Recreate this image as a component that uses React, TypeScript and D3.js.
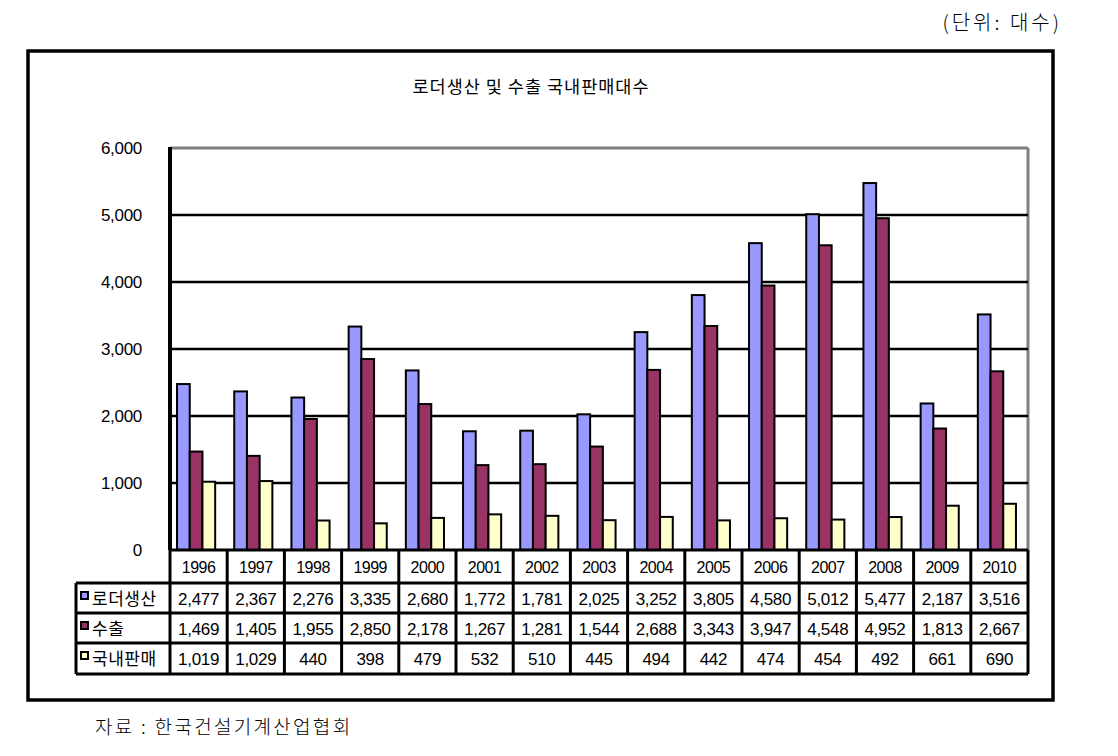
import React from "react";
import * as d3 from "d3";

const years = ["1996","1997","1998","1999","2000","2001","2002","2003","2004","2005","2006","2007","2008","2009","2010"];
const production = [2477,2367,2276,3335,2680,1772,1781,2025,3252,3805,4580,5012,5477,2187,3516];
const exportsV = [1469,1405,1955,2850,2178,1267,1281,1544,2688,3343,3947,4548,4952,1813,2667];
const domestic = [1019,1029,440,398,479,532,510,445,494,442,474,454,492,661,690];
const seriesNames = ["로더생산","수출","국내판매"];
const seriesColors = ["#9999FF","#993366","#FFFFCC"];
const yTicks = [0,1000,2000,3000,4000,5000,6000];
const title = "로더생산 및 수출 국내판매대수";
const unitLabel = "(단위:  대수)";
const sourceLabel = "자료 :  한국건설기계산업협회";

const FONT = "'Liberation Sans', Arial, 'Noto Sans CJK KR', sans-serif";
const KFONT = "'Noto Sans CJK KR', sans-serif";

export default function App() {
  const W = 1118, H = 756;
  const left = 170, right = 1028, top = 148, bottom = 550;
  const series = [production, exportsV, domestic];
  const x = d3.scaleBand<string>().domain(years).range([left, right]).paddingInner(0).paddingOuter(0);
  const y = d3.scaleLinear().domain([0, 6000]).range([bottom, top]);
  const bw = x.bandwidth();
  const barW = bw / 4.5;
  const start = barW * 0.75 - 2.5;
  const sub = d3.scaleBand<number>().domain([0,1,2]).range([start, start + barW * 3]);
  const fmt = d3.format(",");
  const rowTop = [550, 583, 613, 643, 674];
  const tableLeft = 76;

  return (
    <svg width={W} height={H} style={{position:"absolute", left:0, top:0, background:"#fff"}} fontFamily={FONT}>
      <rect x={0} y={0} width={W} height={H} fill="#fff" />
      <text x={1062} y={30} textAnchor="end" fontSize={20} letterSpacing={3} fill="#000" fontFamily={KFONT} fontWeight={300}>{unitLabel}</text>
      {/* outer box */}
      <rect x={28} y={51} width={1025} height={649} fill="none" stroke="#000" strokeWidth={3.5} />
      <text x={531} y={93} textAnchor="middle" fontSize={17.5} letterSpacing={1} fontFamily={KFONT}>{title}</text>
      {/* plot border */}
      <line x1={left} x2={right} y1={top} y2={top} stroke="#808080" strokeWidth={3} />
      <line x1={right} x2={right} y1={top} y2={bottom} stroke="#808080" strokeWidth={3} />
      {yTicks.filter(t => t > 0 && t < 6000).map(t => (
        <line key={t} x1={left} x2={right} y1={y(t)} y2={y(t)} stroke="#000" strokeWidth={2.5} />
      ))}
      {yTicks.map(t => (
        <text key={t} x={142} y={y(t) + 6} textAnchor="end" fontSize={17} letterSpacing={-0.3} fill="#000">{fmt(t)}</text>
      ))}
      {/* bars */}
      {years.map((yr, i) => (
        <g key={yr}>
          {series.map((s, j) => (
            <rect key={j} x={(x(yr) as number) + (sub(j) as number)} y={y(s[i])} width={sub.bandwidth()} height={bottom - y(s[i])}
              fill={seriesColors[j]} stroke="#000" strokeWidth={2} />
          ))}
        </g>
      ))}
      {/* axes */}
      <line x1={left} x2={left} y1={top - 1} y2={bottom} stroke="#000" strokeWidth={4} />
      <line x1={left} x2={right} y1={bottom} y2={bottom} stroke="#000" strokeWidth={3} />
      {/* table */}
      {years.map((yr, i) => {
        const cx = (x(yr) as number) + bw / 2;
        return (
          <g key={yr}>
            <text x={cx} y={rowTop[0] + 23} textAnchor="middle" fontSize={16} letterSpacing={-0.5}>{yr}</text>
            {series.map((s, j) => (
              <text key={j} x={cx} y={rowTop[j + 1] + 22} textAnchor="middle" fontSize={17} letterSpacing={-0.3}>{fmt(s[i])}</text>
            ))}
          </g>
        );
      })}
      {/* table grid */}
      {[...years.map(yr => x(yr) as number), right].map((vx, i) => (
        <line key={i} x1={vx} x2={vx} y1={rowTop[0]} y2={rowTop[4]} stroke="#000" strokeWidth={3} />
      ))}
      <line x1={tableLeft} x2={tableLeft} y1={rowTop[1]} y2={rowTop[4]} stroke="#000" strokeWidth={3} />
      {rowTop.slice(1).map((ry, i) => (
        <line key={i} x1={tableLeft} x2={right} y1={ry} y2={ry} stroke="#000" strokeWidth={3} />
      ))}
      {seriesNames.map((n, j) => (
        <g key={n}>
          <rect x={81} y={rowTop[j + 1] + 9} width={7} height={7} fill={seriesColors[j]} stroke="#000" strokeWidth={2} />
          <text x={92} y={rowTop[j + 1] + 22} fontSize={17} letterSpacing={0.5} fontFamily={KFONT}>{n}</text>
        </g>
      ))}
      <text x={95} y={734} fontSize={19} letterSpacing={2.3} fontFamily={KFONT} fontWeight={300}>{sourceLabel}</text>
    </svg>
  );
}
